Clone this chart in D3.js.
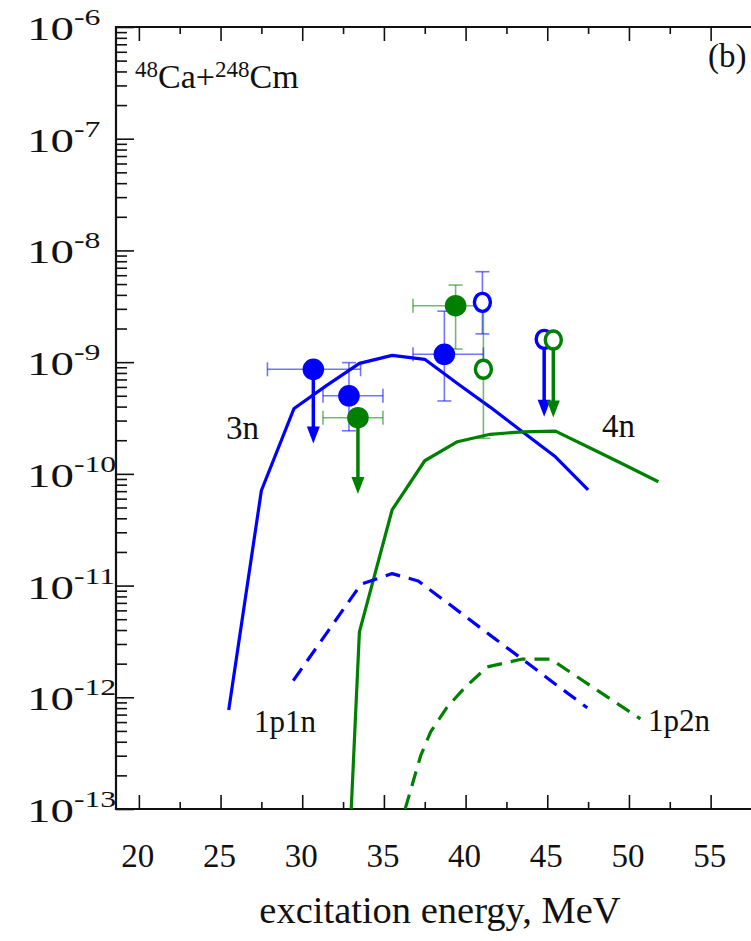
<!DOCTYPE html>
<html><head><meta charset="utf-8">
<script src="https://cdn.jsdelivr.net/npm/d3@7"></script>
<style>
body{margin:0;background:#fff}
svg{display:block}
text{font-family:"Liberation Serif","Times New Roman",serif;fill:#111}
</style>
</head><body>
<svg id="c" width="751" height="941"></svg>
<script>
// ---------- data ----------
const xTicks = [20,25,30,35,40,45,50,55];
const yExps = [-13,-12,-11,-10,-9,-8,-7,-6];

// calculated cross sections (solid: xn, dashed: 1pxn)
const e3n = [25.5,27.5,29.5,31.5,33.5,35.5,37.5,39.5,41.5,43.5,45.5,47.5];
const s3n = [7.7e-13,7.1e-11,3.85e-10,6.2e-10,9.75e-10,1.15e-9,1.06e-9,6.45e-10,3.96e-10,2.37e-10,1.42e-10,7.2e-11];
const e4n = [33.0,33.5,35.5,37.5,39.5,41.5,43.5,45.5,47.5,49.5,51.8];
const s4n = [1.0e-13,3.85e-12,4.75e-11,1.31e-10,1.94e-10,2.26e-10,2.38e-10,2.41e-10,1.74e-10,1.25e-10,8.5e-11];
const e1p1n = [29.45,33.6,35.5,37.1,39.5,41.5,43.5,45.5,47.45];
const s1p1n = [1.41e-12,1.03e-11,1.28e-11,1.1e-11,6.0e-12,3.6e-12,2.18e-12,1.31e-12,8.05e-13];
const e1p2n = [36.3,37.25,37.86,38.88,40.0,41.33,43.47,45.2,50.7];
const s1p2n = [1.0e-13,3.0e-13,4.9e-13,8.2e-13,1.24e-12,1.87e-12,2.2e-12,2.2e-12,6.4e-13];

// experimental points
const fbE = [30.68,32.86,38.70];
const fbS = [8.63e-10,5.0e-10,1.175e-9];
const fbXlo = [27.87,31.27,36.78];
const fbXhi = [33.57,34.94,41.09];
const fbYlo = [null,2.43e-10,4.49e-10];
const fbYhi = [null,9.9e-10,2.86e-9];
const fbLim = [1.87e-10,null,null];

const fgE = [33.41,39.39];
const fgS = [3.18e-10,3.2e-9];
const fgXlo = [31.27,36.78];
const fgXhi = [34.94,41.2];
const fgYlo = [null,1.31e-9];
const fgYhi = [null,4.9e-9];
const fgLim = [6.6e-11,null];

const obE = [41.03,44.81];
const obS = [3.43e-9,1.6e-9];
const obYlo = [1.79e-9,null];
const obYhi = [6.45e-9,null];
const obLim = [null,3.25e-10];

const ogE = [41.09,45.37];
const ogS = [8.63e-10,1.58e-9];
const ogYlo = [2.08e-10,null];
const ogYhi = [3.07e-9,null];
const ogLim = [null,3.2e-10];

// ---------- layout ----------
const BLUE = "#0000ff", GREEN = "#008000";
const L = 116, R = 758, T = 27, B = 809;
const svg = d3.select("#c");
const x = d3.scaleLinear().domain([18.6, 57.9]).range([L, R]);
const y = d3.scaleLog().domain([1e-13, 1e-6]).range([B, T]);

svg.append("defs").append("clipPath").attr("id","clip").append("rect")
  .attr("x", L).attr("y", T).attr("width", R-L).attr("height", B-T);

// axes
const minorX = d3.range(20, 58, 2.5).filter(v => v % 5 !== 0);
const minorY = [];
yExps.slice(0,-1).forEach(e => { for (let k=2;k<=9;k++) minorY.push(k*Math.pow(10,e)); });

const axG = svg.append("g");
function styleAxis(g){ g.select(".domain").remove(); g.selectAll("line").attr("stroke","#111").attr("stroke-width",1.6); g.selectAll("text").remove(); }

axG.append("g").attr("transform",`translate(0,${B})`)
  .call(d3.axisBottom(x).tickValues(xTicks).tickSize(-14)).call(styleAxis);
axG.append("g").attr("transform",`translate(0,${B})`)
  .call(d3.axisBottom(x).tickValues(minorX).tickSize(-7)).call(styleAxis);
axG.append("g").attr("transform",`translate(0,${T})`)
  .call(d3.axisTop(x).tickValues(xTicks).tickSize(-14)).call(styleAxis);
axG.append("g").attr("transform",`translate(0,${T})`)
  .call(d3.axisTop(x).tickValues(minorX).tickSize(-7)).call(styleAxis);
axG.append("g").attr("transform",`translate(${L},0)`)
  .call(d3.axisLeft(y).tickValues(yExps.map(e=>Math.pow(10,e))).tickSize(-18)).call(styleAxis);
axG.append("g").attr("transform",`translate(${L},0)`)
  .call(d3.axisLeft(y).tickValues(minorY).tickSize(-11)).call(styleAxis);

axG.append("path")
  .attr("d", `M${R},${T}H${L}V${B}H${R}`)
  .attr("fill","none").attr("stroke","#111").attr("stroke-width",2.2);

// tick labels
yExps.forEach(e => {
  const g = svg.append("g").attr("transform", `translate(27,${y(Math.pow(10,e)) + 13}) scale(1.38,1)`);
  const t = g.append("text").attr("x", 0).attr("y", 0).attr("font-size", 34);
  t.append("tspan").text("10");
  t.append("tspan").attr("dy", -15).attr("font-size", 23).text(String(e));
});
xTicks.forEach(v => {
  svg.append("text").attr("x", x(v) - 1).attr("y", 867).attr("text-anchor","middle")
    .attr("font-size", 33).text(String(v));
});
svg.append("text").attr("x", 440).attr("y", 923).attr("text-anchor","middle")
  .attr("font-size", 38.5).text("excitation energy, MeV");

// ---------- curves ----------
const plot = svg.append("g").attr("clip-path","url(#clip)");
const line = d3.line().x(d => x(d[0])).y(d => y(d[1]));
function curve(es, ss, color, dashed){
  plot.append("path").datum(es.map((e,i)=>[e, ss[i]]))
    .attr("d", line).attr("fill","none").attr("stroke", color)
    .attr("stroke-width", 3.2).attr("stroke-linejoin","round")
    .attr("stroke-dasharray", dashed ? "15,9" : null);
}
curve(e3n, s3n, BLUE, false);
curve(e4n, s4n, GREEN, false);
curve(e1p1n, s1p1n, BLUE, true);
curve(e1p2n, s1p2n, GREEN, true);

// ---------- error bars ----------
const eb = svg.append("g");
function seg(x1,y1,x2,y2,color){
  eb.append("line").attr("x1",x1).attr("x2",x2).attr("y1",y1).attr("y2",y2)
    .attr("stroke", color).attr("stroke-width", 1.6).attr("stroke-opacity", 0.55);
}
function errX(es, ss, lo, hi, color){
  es.forEach((e,i) => {
    if (lo[i] == null) return;
    const yy = y(ss[i]);
    seg(x(lo[i]), yy, x(hi[i]), yy, color);
    [lo[i], hi[i]].forEach(v => seg(x(v), yy-7, x(v), yy+7, color));
  });
}
function errY(es, lo, hi, color){
  es.forEach((e,i) => {
    if (lo[i] == null) return;
    const xx = x(e);
    seg(xx, y(lo[i]), xx, y(hi[i]), color);
    [lo[i], hi[i]].forEach(v => seg(xx-7, y(v), xx+7, y(v), color));
  });
}
errX(fbE, fbS, fbXlo, fbXhi, BLUE);
errY(fbE, fbYlo, fbYhi, BLUE);
errX(fgE, fgS, fgXlo, fgXhi, GREEN);
errY(fgE, fgYlo, fgYhi, GREEN);
errY(obE, obYlo, obYhi, BLUE);
errY(ogE, ogYlo, ogYhi, GREEN);

// ---------- upper-limit arrows ----------
const ar = svg.append("g");
function arrows(es, ss, lim, color){
  es.forEach((e,i) => {
    if (lim[i] == null) return;
    const xx = x(e), y0 = y(ss[i]), y1 = y(lim[i]);
    ar.append("line").attr("x1", xx).attr("x2", xx).attr("y1", y0).attr("y2", y1 - 12)
      .attr("stroke", color).attr("stroke-width", 3.5);
    ar.append("path").attr("d", `M${xx-6.5},${y1-17}L${xx+6.5},${y1-17}L${xx},${y1}Z`).attr("fill", color);
  });
}
arrows(fbE, fbS, fbLim, BLUE);
arrows(fgE, fgS, fgLim, GREEN);
arrows(obE, obS, obLim, BLUE);
arrows(ogE, ogS, ogLim, GREEN);

// ---------- markers ----------
const mk = svg.append("g");
function filled(es, ss, color){
  es.forEach((e,i) => mk.append("circle").attr("cx", x(e)).attr("cy", y(ss[i])).attr("r", 10.8).attr("fill", color));
}
function open(es, ss, color){
  es.forEach((e,i) => mk.append("ellipse").attr("cx", x(e)).attr("cy", y(ss[i])).attr("rx", 8).attr("ry", 9)
    .attr("fill", "#fff").attr("stroke", color).attr("stroke-width", 3.4));
}
filled(fbE, fbS, BLUE);
filled(fgE, fgS, GREEN);
open(obE, obS, BLUE);
open(ogE, ogS, GREEN);

// ---------- labels ----------
function label(txt, xv, yv, size){
  svg.append("text").attr("x", xv).attr("y", yv).attr("font-size", size).text(txt);
}
label("3n", 226, 439, 33);
label("4n", 602, 437, 33);
label("1p1n", 254, 732, 31);
label("1p2n", 648, 731, 31);
label("(b)", 708, 67, 33);

const rx = svg.append("text").attr("x", 135).attr("y", 88).attr("font-size", 34);
rx.append("tspan").attr("font-size", 23).attr("dy", -11).text("48");
rx.append("tspan").attr("dy", 11).text("Ca+");
rx.append("tspan").attr("font-size", 23).attr("dy", -11).text("248");
rx.append("tspan").attr("dy", 11).text("Cm");
</script>
</body></html>
